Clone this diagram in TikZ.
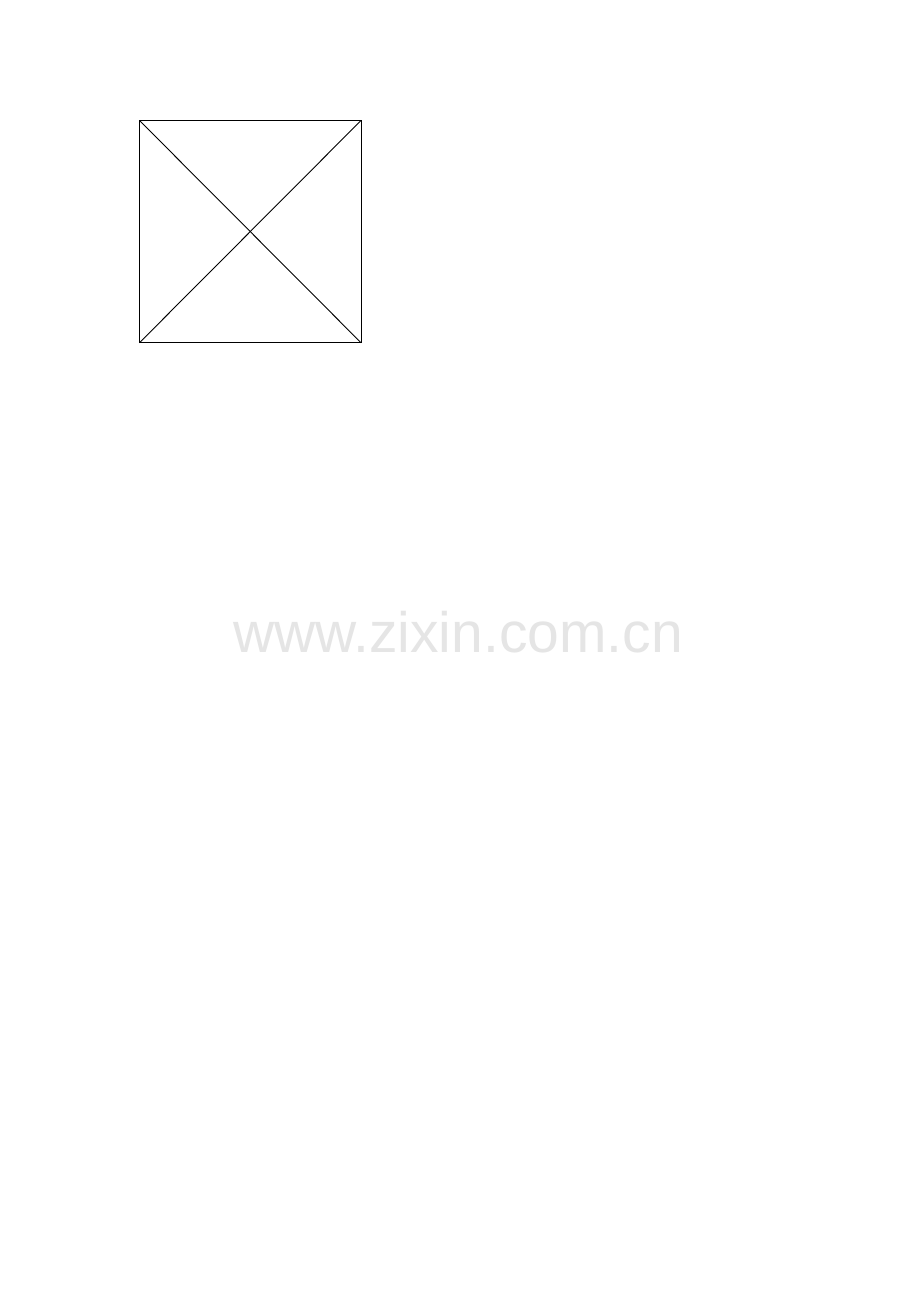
\documentclass[tikz,border=0pt]{standalone}
\usepackage{fontspec}
\newfontfamily\wmfont{Liberation Sans}
\begin{document}
\begin{tikzpicture}[x=1pt,y=-1pt,
  edge/.style={draw=black,line width=0.9pt},
  watermark/.style={text=black!10,font=\wmfont\fontsize{57}{60}\selectfont,inner sep=0pt,anchor=base}]
\useasboundingbox[fill=white] (0,0) rectangle (920,1302);
\coordinate (tl) at (139.5,120.5);
\coordinate (tr) at (361,120.5);
\coordinate (br) at (361,342.7);
\coordinate (bl) at (139.5,342.7);
\draw[edge] (tl) -- (tr) -- (br) -- (bl) -- cycle;
\draw[edge] (tl) -- (br);
\draw[edge] (tr) -- (bl);
\node[watermark] (wm) at (458,652) {www.zixin.com.cn};
\end{tikzpicture}
\end{document}
